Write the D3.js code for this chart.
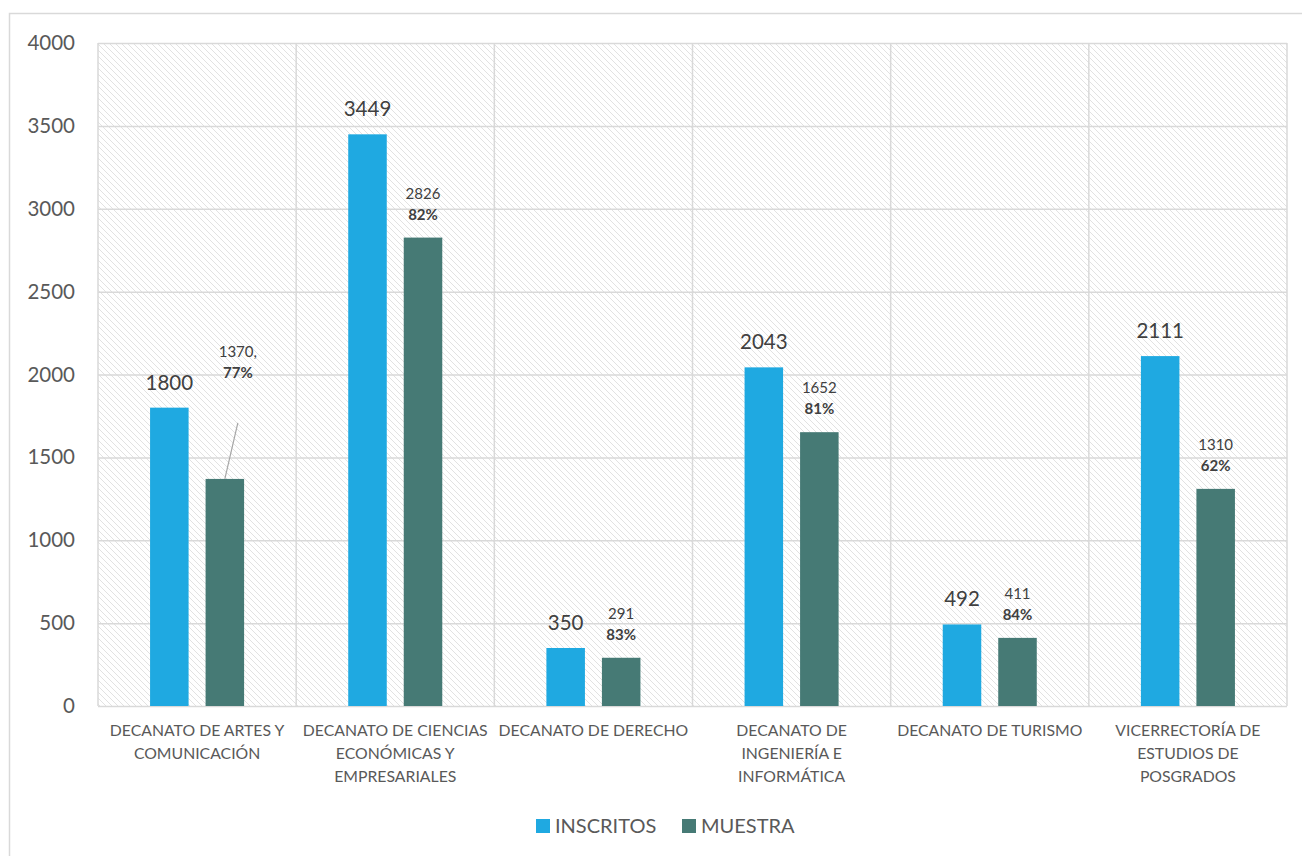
<!DOCTYPE html>
<html>
<head>
<meta charset="utf-8">
<script src="https://cdn.jsdelivr.net/npm/d3@7"></script>
<style>
  html, body { margin: 0; padding: 0; background: #ffffff; }
  svg { display: block; font-family: Lato, "Open Sans", "Liberation Sans", sans-serif; }
</style>
</head>
<body>
<svg id="chart" width="1302" height="856"></svg>
<script>
// Categories (line breaks mark where the axis labels wrap)
const categories = [
  "DECANATO DE ARTES Y\nCOMUNICACIÓN",
  "DECANATO DE CIENCIAS\nECONÓMICAS Y\nEMPRESARIALES",
  "DECANATO DE DERECHO",
  "DECANATO DE\nINGENIERÍA E\nINFORMÁTICA",
  "DECANATO DE TURISMO",
  "VICERRECTORÍA DE\nESTUDIOS DE\nPOSGRADOS"
];
const seriesNames = ["INSCRITOS", "MUESTRA"];
const inscritos = [1800, 3449, 350, 2043, 492, 2111];
const muestra = [1370, 2826, 291, 1652, 411, 1310];
const muestraPct = ["77%", "82%", "83%", "81%", "84%", "62%"];
const yTicks = [0, 500, 1000, 1500, 2000, 2500, 3000, 3500, 4000];

const colors = { INSCRITOS: "#1FA9E1", MUESTRA: "#467A75" };
const gridColor = "#d9d9d9";
const textColor = "#595959";
const valueColor = "#404040";

const svg = d3.select("#chart");

// outer chart frame
svg.append("rect")
  .attr("x", 9.5).attr("y", 13.5)
  .attr("width", 1310).attr("height", 860)
  .attr("fill", "#ffffff")
  .attr("stroke", gridColor).attr("stroke-width", 1.5);

const plot = { left: 98, right: 1287, top: 43, bottom: 706 };

const x = d3.scaleBand().domain(d3.range(categories.length))
  .range([plot.left, plot.right]).paddingInner(0).paddingOuter(0);
const xs = d3.scaleBand().domain(seriesNames)
  .range([0, x.bandwidth()]).paddingInner(0.306).paddingOuter(0.938);
const y = d3.scaleLinear().domain([0, 4000]).range([plot.bottom, plot.top]);

// diagonal hatch fill of the plot area
const defs = svg.append("defs");
const pat = defs.append("pattern")
  .attr("id", "hatch").attr("patternUnits", "userSpaceOnUse")
  .attr("width", 6).attr("height", 6);
pat.append("rect").attr("width", 6).attr("height", 6).attr("fill", "#ffffff");
pat.append("path")
  .attr("d", "M-1,-1 L7,7 M-1,5 L1,7 M5,-1 L7,1")
  .attr("stroke", "#e2e2e2").attr("stroke-width", 1);

svg.append("rect")
  .attr("x", plot.left).attr("y", plot.top)
  .attr("width", plot.right - plot.left).attr("height", plot.bottom - plot.top)
  .attr("fill", "url(#hatch)");

// horizontal gridlines + y tick labels
const yAxis = svg.append("g").attr("transform", `translate(${plot.left},0)`)
  .call(d3.axisLeft(y).tickValues(yTicks).tickFormat(d3.format("d"))
    .tickSize(-(plot.right - plot.left)).tickPadding(23));
yAxis.select(".domain").remove();
yAxis.selectAll(".tick line").attr("stroke", gridColor).attr("stroke-width", 1.5);
yAxis.selectAll(".tick text")
  .attr("fill", textColor).attr("font-size", 20.5).attr("font-family", "Lato, sans-serif");

// vertical category separators
const bounds = categories.map((_, i) => x(i)).concat([plot.right]);
svg.append("g").selectAll("line").data(bounds).join("line")
  .attr("x1", d => d).attr("x2", d => d)
  .attr("y1", plot.top).attr("y2", plot.bottom)
  .attr("stroke", gridColor).attr("stroke-width", 1.5);

// bars
const groups = svg.append("g").selectAll("g").data(categories).join("g")
  .attr("transform", (_, i) => `translate(${x(i)},0)`);

groups.append("rect")
  .attr("x", xs("INSCRITOS")).attr("width", xs.bandwidth())
  .attr("y", (_, i) => y(inscritos[i]))
  .attr("height", (_, i) => y(0) - y(inscritos[i]))
  .attr("fill", colors.INSCRITOS);

groups.append("rect")
  .attr("x", xs("MUESTRA")).attr("width", xs.bandwidth())
  .attr("y", (_, i) => y(muestra[i]))
  .attr("height", (_, i) => y(0) - y(muestra[i]))
  .attr("fill", colors.MUESTRA);

// value labels over INSCRITOS bars
groups.append("text")
  .attr("x", xs("INSCRITOS") + xs.bandwidth() / 2)
  .attr("y", (_, i) => y(inscritos[i]) - 18)
  .attr("text-anchor", "middle")
  .attr("font-size", 20.5).attr("fill", valueColor)
  .text((_, i) => inscritos[i]);

// value + share labels over MUESTRA bars; the first one is lifted with a leader line
const liftedLabel = { index: 0, dx: 13, dy: -83 };
groups.each(function(_, i) {
  const g = d3.select(this);
  const cx = xs("MUESTRA") + xs.bandwidth() / 2;
  const top = y(muestra[i]);
  const lifted = i === liftedLabel.index;
  const lx = cx + (lifted ? liftedLabel.dx : 0);
  const base = top - 18 + (lifted ? liftedLabel.dy : 0);
  if (lifted) {
    g.append("line")
      .attr("x1", cx).attr("y1", top)
      .attr("x2", lx).attr("y2", base + 45)
      .attr("stroke", "#a6a6a6").attr("stroke-width", 1.2);
  }
  g.append("text")
    .attr("x", lx).attr("y", base - 21)
    .attr("text-anchor", "middle").attr("font-size", 15).attr("fill", valueColor)
    .text(muestra[i] + (lifted ? "," : ""));
  g.append("text")
    .attr("x", lx).attr("y", base)
    .attr("text-anchor", "middle").attr("font-size", 15).attr("font-weight", "bold")
    .attr("fill", valueColor)
    .text(muestraPct[i]);
});

// category labels under the axis
groups.append("text")
  .attr("text-anchor", "middle")
  .attr("font-size", 15.8).attr("fill", textColor)
  .each(function(d) {
    const t = d3.select(this);
    d.split("\n").forEach((line, k) => {
      t.append("tspan").attr("x", x.bandwidth() / 2).attr("y", 736 + k * 23).text(line);
    });
  });

// legend
const legendItems = [
  { name: "INSCRITOS", x: 536 },
  { name: "MUESTRA", x: 682 }
];
const legend = svg.append("g").selectAll("g").data(legendItems).join("g")
  .attr("transform", d => `translate(${d.x},819)`);
legend.append("rect").attr("width", 14).attr("height", 14).attr("fill", d => colors[d.name]);
legend.append("text").attr("x", 19).attr("y", 14)
  .attr("font-size", 20).attr("fill", textColor).text(d => d.name);
</script>
</body>
</html>
